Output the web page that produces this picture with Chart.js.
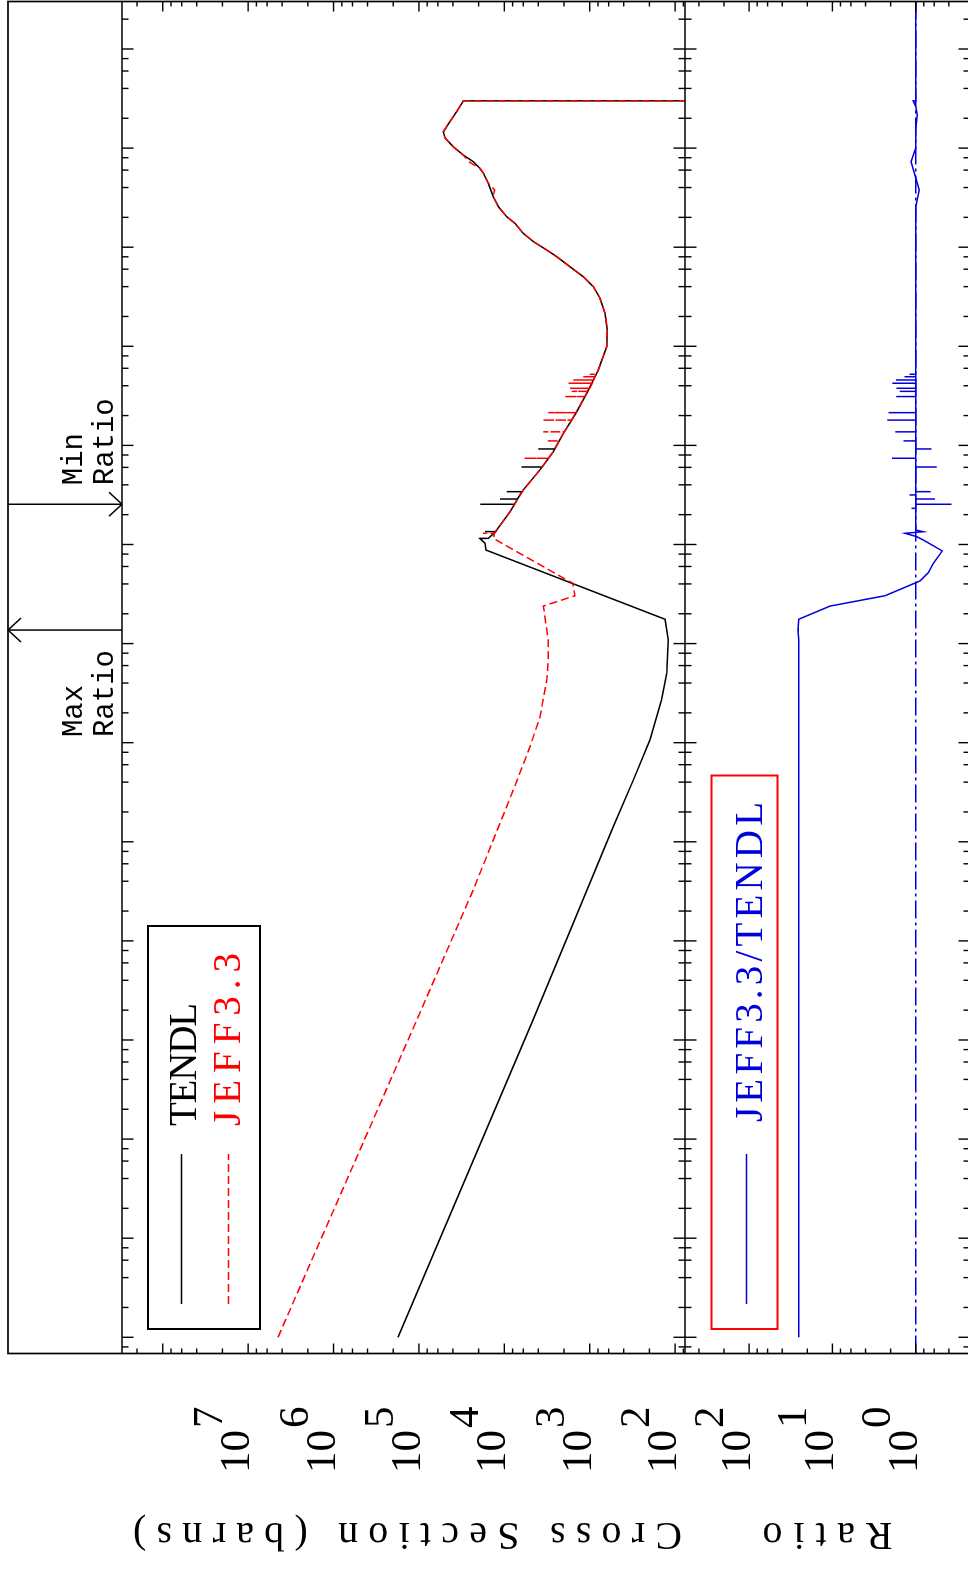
<!DOCTYPE html>
<html>
<head>
<meta charset="utf-8">
<title>TENDL / JEFF3.3 cross section comparison</title>
<script src="https://cdn.jsdelivr.net/npm/chart.js@4/dist/chart.umd.min.js"></script>
<style>
  html, body { margin: 0; padding: 0; background: #fff; overflow: hidden; }
  #page { position: relative; width: 968px; height: 1573px; overflow: hidden; background: #fff; }
  /* the plot is laid out in landscape and turned a quarter turn counter-clockwise */
  #plot { position: absolute; left: 0; top: 0; width: 1573px; height: 970px;
          transform-origin: 0 0; transform: translateY(1573px) rotate(-90deg); }
</style>
</head>
<body>
<div id="page"><canvas id="plot" width="1573" height="970"></canvas></div>
<script>
// ---- data: incident energy (eV), cross sections (barns), ratio ----
const tendlEnergy = [1e-5, 0.0159, 0.151, 1.42, 4.21, 10.7, 27.0, 50.2, 109, 137, 176,
  879, 1028, 1148, 1153, 1340, 1346, 1352, 1400, 2143,
  2547, 2547, 2547, 2877, 2877, 2877, 3412, 3412, 3412, 3548, 5675,
  6053, 6053, 6053, 8650, 9204, 9204, 9204,
  1.32e4, 2.19e4, 3.36e4, 5.77e4, 9.91e4, 1.46e5, 2.15e5, 3.05e5, 3.99e5, 5.04e5,
  6.35e5, 8.02e5, 9.38e5, 1.14e6, 1.38e6, 1.74e6, 2.03e6, 2.56e6, 3.24e6, 4.42e6,
  5.57e6, 6.25e6, 7.29e6, 8.51e6, 1.03e7, 1.26e7, 1.46e7, 1.85e7, 2.33e7, 3.00e7, 3.00e7];
const tendlXS = [1.76e5, 4.62e3, 1.56e3, 530, 308, 197, 144, 125, 120, 125, 131,
  1.64e4, 1.68e4, 1.93e4, 1.54e4, 1.27e4, 1.68e4, 1.26e4, 1.23e4, 8570,
  7600, 1.92e4, 7600, 7015, 1.12e4, 7015, 6209, 9376, 6209, 5998, 3819,
  3614, 6310, 3614, 2667, 2570, 4000, 2570,
  2037, 1419, 1084, 793, 632, 622, 662, 757, 908, 1189,
  1702, 2432, 3192, 4571, 5998, 7499, 9376, 1.17e4, 1.35e4, 1.54e4,
  1.76e4, 1.93e4, 2.31e4, 3.02e4, 3.95e4, 4.94e4, 5.18e4, 4.33e4, 3.61e4, 3.02e4, 1e-3];

const jeffEnergy = [1e-5, 0.0159, 0.327, 1.04, 3.33, 9.12, 18.3, 43.0, 68.4, 109, 239, 304, 406,
  1153, 1297, 1297, 1297, 1400, 2143, 3548, 5675,
  7413, 7413, 7413, 8650, 1.11e4, 1.11e4, 1.11e4, 1.32e4,
  1.37e4, 1.37e4, 1.37e4, 1.80e4, 1.80e4, 1.80e4, 2.14e4, 2.14e4, 2.14e4, 2.19e4,
  3.11e4, 3.11e4, 3.11e4, 3.36e4, 3.51e4, 3.51e4, 3.51e4, 3.77e4, 3.77e4, 3.77e4,
  4.24e4, 4.24e4, 4.24e4, 4.57e4, 4.57e4, 4.57e4, 4.93e4, 4.93e4, 4.93e4,
  5.22e4, 5.22e4, 5.22e4, 5.77e4, 9.91e4, 1.46e5, 2.15e5, 3.05e5, 3.99e5, 5.04e5,
  6.35e5, 8.02e5, 9.38e5, 1.14e6, 1.38e6, 1.74e6, 2.03e6, 2.56e6, 3.24e6, 3.78e6, 4.42e6,
  5.57e6, 6.25e6, 7.29e6, 8.51e6, 1.03e7, 1.26e7, 1.46e7, 1.85e7, 2.33e7, 3.00e7, 3.00e7];
const jeffXS = [4.47e6, 1.06e5, 2.31e4, 1.35e4, 7850, 5000, 3820, 3180, 3060, 3060, 3490, 1490, 1580,
  1.35e4, 1.30e4, 1.78e4, 1.30e4, 1.23e4, 8570, 5998, 3819,
  3041, 5834, 3041, 2667, 2280, 3192, 2280, 2037,
  1986, 3491, 1986, 1622, 3548, 1622, 1442, 3055, 1442, 1419,
  1138, 1945, 1138, 1084, 1047, 1626, 1047, 1000, 1702, 1000,
  933, 1778, 933, 902, 1556, 902, 871, 1189, 871,
  841, 1000, 841, 793, 632, 622, 662, 757, 908, 1189,
  1702, 2432, 3192, 4571, 5998, 7499, 9376, 1.17e4, 1.35e4, 1.30e4, 1.54e4,
  1.76e4, 1.93e4, 2.62e4, 3.02e4, 3.95e4, 4.94e4, 5.18e4, 4.33e4, 3.61e4, 3.02e4, 1e-3];

const ratioEnergy = [1e-5, 109, 137, 176, 239, 304, 429, 520, 646, 861, 1109, 1200, 1297, 1346, 1400,
  2317, 2317, 2317, 2547, 2547, 2547, 2877, 2877, 2877, 3162, 3162, 3162, 3412, 3412, 3412,
  6053, 6053, 6053, 7413, 7413, 7413, 9204, 9204, 9204, 1.11e4, 1.11e4, 1.11e4,
  1.37e4, 1.37e4, 1.37e4, 1.80e4, 1.80e4, 1.80e4, 2.14e4, 2.14e4, 2.14e4,
  3.11e4, 3.11e4, 3.11e4, 3.51e4, 3.51e4, 3.51e4, 3.77e4, 3.77e4, 3.77e4,
  4.24e4, 4.24e4, 4.24e4, 4.57e4, 4.57e4, 4.57e4, 4.93e4, 4.93e4, 4.93e4, 5.22e4, 5.22e4, 5.22e4,
  2.56e6, 3.78e6, 5.01e6, 7.29e6, 1.00e7, 1.58e7, 2.16e7, 2.63e7, 3.00e7, 3.00e7, 3.00e8];
const ratioValue = [25.4, 25.4, 25.8, 25.4, 10.7, 2.34, 0.889, 0.706, 0.615, 0.480, 0.811, 0.973, 1.34, 0.813, 1.0,
  1.0, 1.12, 1.0, 1.0, 0.372, 1.0, 1.0, 0.586, 1.0, 1.0, 1.19, 1.0, 1.0, 0.661, 1.0,
  1.0, 0.56, 1.0, 1.0, 1.92, 1.0, 1.0, 0.646, 1.0, 1.0, 1.40, 1.0,
  1.0, 1.76, 1.0, 1.0, 2.19, 1.0, 1.0, 2.12, 1.0,
  1.0, 1.71, 1.0, 1.0, 1.55, 1.0, 1.0, 1.70, 1.0,
  1.0, 1.91, 1.0, 1.0, 1.73, 1.0, 1.0, 1.36, 1.0, 1.0, 1.19, 1.0,
  1.0, 0.906, 1.0, 1.14, 1.0, 1.0, 0.957, 1.0, 1.07, 1.0, 1.0];

// axis ranges and labelled decades
const energyRange = [6.86e-6, 3.015e8];
const xsRange = [76.6, 3.0e8];
const ratioRange = [0.223, 588];
const unityRatio = [1, 1];
const xsTickExponents = [2, 3, 4, 5, 6, 7];
const ratioTickExponents = [0, 1, 2];
const seriesNames = ['TENDL', 'JEFF3.3'];
const ratioName = 'JEFF3.3/TENDL';
const axisTitles = ['Cross Section (barns)', 'Ratio'];
const markerLabels = [['Max', 'Ratio'], ['Min', 'Ratio']];

const RED = '#ff0000';
const BLUE = '#0000dd';
const SERIF = '"Liberation Serif", "DejaVu Serif", serif';
const MONO = '"Liberation Mono", "DejaVu Sans Mono", monospace';

const pts = (xs, ys) => xs.map((x, i) => ({ x, y: ys[i] }));

// text stretched to a given width by spreading the letters
function drawSpaced(ctx, text, left, baseline, width) {
  ctx.letterSpacing = '0px';
  const natural = ctx.measureText(text).width;
  const gap = text.length > 1 ? (width - natural) / (text.length - 1) : 0;
  ctx.letterSpacing = gap.toFixed(2) + 'px';
  ctx.textAlign = 'left';
  ctx.fillText(text, left, baseline);
  ctx.letterSpacing = '0px';
}

// keep each curve inside its own panel
const panelClip = {
  id: 'panelClip',
  beforeDatasetDraw(chart, args) {
    const sc = args.meta.yScale, a = chart.chartArea, ctx = chart.ctx;
    ctx.save();
    ctx.beginPath();
    ctx.rect(a.left, sc.top, a.right - a.left, sc.bottom - sc.top);
    ctx.clip();
  },
  afterDatasetDraw(chart) { chart.ctx.restore(); }
};

// frame, inward ticks, decade labels, titles, legends and ratio markers
const framePlugin = {
  id: 'frame',
  afterDraw(chart) {
    const { ctx, chartArea: a, scales } = chart;
    const xS = scales.x, yS = scales.ys, yR = scales.yr;
    const stripTop = 8;
    const seg = (x1, y1, x2, y2) => { ctx.beginPath(); ctx.moveTo(x1, y1); ctx.lineTo(x2, y2); ctx.stroke(); };

    ctx.save();
    ctx.strokeStyle = '#000';
    ctx.lineWidth = 1.7;
    ctx.strokeRect(a.left, stripTop, a.right - a.left, a.bottom + 10 - stripTop);
    seg(a.left, yS.top, a.right, yS.top);
    seg(a.left, yS.bottom, a.right, yS.bottom);

    // energy ticks on both panels
    ctx.lineWidth = 1.4;
    const mant = [1, 2, 4, 6, 8];
    for (let d = -6; d <= 9; d++) {
      for (const m of mant) {
        const v = m * Math.pow(10, d);
        if (v < xS.min || v > xS.max) continue;
        const px = xS.getPixelForValue(v);
        const len = m === 1 ? 11.5 : 6.5;
        seg(px, yS.top, px, yS.top + len);
        seg(px, yS.bottom - len, px, yS.bottom);
        seg(px, yR.top, px, yR.top + len);
        seg(px, yR.bottom - len, px, yR.bottom);
      }
    }
    // value ticks on left and right edges
    for (const [sc, lo, hi] of [[yS, 1, 9], [yR, -1, 3]]) {
      for (let d = lo; d <= hi; d++) {
        for (const m of mant) {
          const v = m * Math.pow(10, d);
          if (v < sc.min || v > sc.max) continue;
          const py = sc.getPixelForValue(v);
          const len = m === 1 ? 10 : 5;
          seg(a.left, py, a.left + len, py);
          seg(a.right - len, py, a.right, py);
        }
      }
    }

    // decade labels 10^n
    ctx.fillStyle = '#000';
    ctx.font = '43px ' + SERIF;
    ctx.textBaseline = 'alphabetic';
    ctx.textAlign = 'left';
    const labelLeft = 100;
    for (const [sc, exps] of [[yS, xsTickExponents], [yR, ratioTickExponents]]) {
      for (const e of exps) {
        const py = sc.getPixelForValue(Math.pow(10, e)) + 1;
        ctx.fillText('10', labelLeft, py);
        const w = ctx.measureText('10').width;
        ctx.fillText(String(e), labelLeft + w + 2, py - 27);
      }
    }

    // axis titles, reading upward
    ctx.font = '40px ' + SERIF;
    const titles = [[axisTitles[0], yS, 549, 4], [axisTitles[1], yR, 130, 0]];
    for (const [txt, sc, width, shift] of titles) {
      ctx.save();
      ctx.translate(50, (sc.top + sc.bottom) / 2 + shift);
      ctx.rotate(-Math.PI / 2);
      drawSpaced(ctx, txt, -width / 2, 0, width);
      ctx.restore();
    }

    // legend of the cross-section panel
    ctx.lineWidth = 2;
    ctx.strokeStyle = '#000';
    ctx.strokeRect(244, 148, 403, 112);
    ctx.lineWidth = 1.5;
    seg(269, 181.5, 419, 181.5);
    ctx.strokeStyle = RED;
    ctx.setLineDash([8, 4]);
    seg(269, 228.5, 419, 228.5);
    ctx.setLineDash([]);
    ctx.font = '39px ' + SERIF;
    ctx.fillStyle = '#000';
    drawSpaced(ctx, seriesNames[0], 447, 195.5, 123);
    ctx.fillStyle = RED;
    drawSpaced(ctx, seriesNames[1], 447, 240, 173);

    // legend of the ratio panel
    ctx.lineWidth = 2;
    ctx.strokeStyle = RED;
    ctx.strokeRect(244, 711.5, 553.5, 66);
    ctx.lineWidth = 1.5;
    ctx.strokeStyle = BLUE;
    seg(269, 746.5, 419, 746.5);
    ctx.fillStyle = BLUE;
    drawSpaced(ctx, ratioName, 451, 762, 320);

    // max / min ratio markers
    let iMax = 0, iMin = 0;
    ratioValue.forEach((r, i) => {
      if (r > ratioValue[iMax]) iMax = i;
      if (r < ratioValue[iMin]) iMin = i;
    });
    const xMax = xS.getPixelForValue(ratioEnergy[iMax]);
    const xMin = xS.getPixelForValue(ratioEnergy[iMin]);
    ctx.strokeStyle = '#000';
    ctx.lineWidth = 1.5;
    seg(xMax, stripTop, xMax, yS.top);
    seg(xMax - 12, stripTop + 13, xMax, stripTop);
    seg(xMax + 12, stripTop + 13, xMax, stripTop);
    seg(xMin, stripTop, xMin, yS.top);
    seg(xMin - 12, yS.top - 13, xMin, yS.top);
    seg(xMin + 12, yS.top - 13, xMin, yS.top);
    ctx.fillStyle = '#000';
    ctx.font = '29px ' + MONO;
    ctx.textAlign = 'left';
    ctx.fillText(markerLabels[0][0], xMax - 107, 82);
    ctx.fillText(markerLabels[0][1], xMax - 107, 113);
    ctx.fillText(markerLabels[1][0], xMin + 19, 82);
    ctx.fillText(markerLabels[1][1], xMin + 19, 113);
    ctx.restore();
  }
};

new Chart(document.getElementById('plot'), {
  type: 'scatter',
  data: {
    datasets: [
      { label: seriesNames[1], data: pts(jeffEnergy, jeffXS), yAxisID: 'ys', showLine: true,
        borderColor: RED, borderWidth: 1.5, borderDash: [8, 4], pointRadius: 0 },
      { label: seriesNames[0], data: pts(tendlEnergy, tendlXS), yAxisID: 'ys', showLine: true,
        borderColor: '#000', borderWidth: 1.5, pointRadius: 0 },
      { label: ratioName, data: pts(ratioEnergy, ratioValue), yAxisID: 'yr', showLine: true,
        borderColor: BLUE, borderWidth: 1.5, pointRadius: 0 },
      { label: 'unity', data: pts(energyRange, unityRatio), yAxisID: 'yr', showLine: true,
        borderColor: BLUE, borderWidth: 1.5, borderDash: [18, 4, 3, 4], pointRadius: 0 }
    ]
  },
  options: {
    responsive: false,
    animation: false,
    devicePixelRatio: 1,
    events: [],
    elements: { line: { tension: 0, fill: false }, point: { radius: 0 } },
    layout: { padding: { left: 219.5, right: 1.5, top: 122, bottom: 0 } },
    plugins: { legend: { display: false }, tooltip: { enabled: false }, title: { display: false } },
    scales: {
      x: { type: 'logarithmic', min: energyRange[0], max: energyRange[1], display: false },
      ys: { type: 'logarithmic', axis: 'y', position: 'left', stack: 'panels', stackWeight: 563, weight: 1,
            min: xsRange[0], max: xsRange[1], display: false },
      yr: { type: 'logarithmic', axis: 'y', position: 'left', stack: 'panels', stackWeight: 285, weight: 0,
            min: ratioRange[0], max: ratioRange[1], display: false }
    }
  },
  plugins: [panelClip, framePlugin]
});
</script>
</body>
</html>
